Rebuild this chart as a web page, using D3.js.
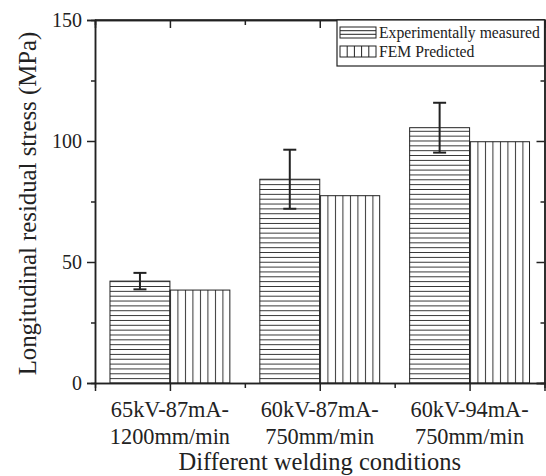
<!DOCTYPE html>
<html>
<head>
<meta charset="utf-8">
<script src="https://cdn.jsdelivr.net/npm/d3@7"></script>
<style>
  html, body { margin: 0; padding: 0; background: #fff; }
  svg { display: block; }
  text { font-family: "Liberation Serif", "Times New Roman", serif; fill: #222; }
</style>
</head>
<body>
<svg id="chart" width="546" height="476"></svg>
<script>
// ---- data ----
const categories = ["65kV-87mA-\n1200mm/min", "60kV-87mA-\n750mm/min", "60kV-94mA-\n750mm/min"];
const seriesNames = ["Experimentally measured", "FEM Predicted"];
const experimental = [42.1, 84.2, 105.5];
const experimentalError = [3.4, 12.2, 10.3];
const femPredicted = [38.4, 77.4, 99.7];
const yTicks = [0, 50, 100, 150];
const yMinorTicks = [25, 75, 125];
const xLabel = "Different welding conditions";
const yLabel = "Longitudinal residual stress (MPa)";

// ---- layout ----
const W = 546, H = 476;
const m = { left: 95, right: 1.5, top: 20, bottom: 93 };
const svg = d3.select("#chart");
const defs = svg.append("defs");
const ink = "#222";

const x = d3.scaleBand().domain(d3.range(categories.length)).range([m.left, W - m.right]).paddingInner(0).paddingOuter(0);
const y = d3.scaleLinear().domain([0, 150]).range([H - m.bottom, m.top]);
const bw = x.bandwidth() * 0.4;

// patterns
const ph = defs.append("pattern").attr("id", "hpat").attr("patternUnits", "userSpaceOnUse")
  .attr("width", 10).attr("height", 4.85).attr("y", y(0));
ph.append("line").attr("x1", 0).attr("x2", 10).attr("y1", 0.5).attr("y2", 0.5)
  .attr("stroke", "#333").attr("stroke-width", 1);
const pv = defs.append("pattern").attr("id", "vpat").attr("patternUnits", "userSpaceOnUse")
  .attr("width", 7.5).attr("height", 10).attr("x", m.left + x.bandwidth() / 2);
pv.append("line").attr("x1", 0.5).attr("x2", 0.5).attr("y1", 0).attr("y2", 10)
  .attr("stroke", "#333").attr("stroke-width", 1);

// bars
const g = svg.append("g");
g.selectAll("rect.exp").data(experimental).join("rect").attr("class", "exp")
  .attr("x", (d, i) => x(i) + x.bandwidth() / 2 - bw)
  .attr("y", d => y(d)).attr("width", bw).attr("height", d => y(0) - y(d))
  .attr("fill", "url(#hpat)").attr("stroke", ink).attr("stroke-width", 1);
g.selectAll("rect.fem").data(femPredicted).join("rect").attr("class", "fem")
  .attr("x", (d, i) => x(i) + x.bandwidth() / 2)
  .attr("y", d => y(d)).attr("width", bw).attr("height", d => y(0) - y(d))
  .attr("fill", "url(#vpat)").attr("stroke", ink).attr("stroke-width", 1);

// error bars
const eb = g.selectAll("g.err").data(experimental).join("g").attr("class", "err");
eb.each(function (d, i) {
  const cx = x(i) + x.bandwidth() / 2 - bw / 2;
  const e = experimentalError[i];
  const s = d3.select(this);
  s.append("line").attr("x1", cx).attr("x2", cx).attr("y1", y(d + e)).attr("y2", y(d - e))
    .attr("stroke", ink).attr("stroke-width", 2);
  [d + e, d - e].forEach(v => s.append("line").attr("x1", cx - 6.5).attr("x2", cx + 6.5)
    .attr("y1", y(v)).attr("y2", y(v)).attr("stroke", ink).attr("stroke-width", 2));
});

// axes
const left = svg.append("g").attr("transform", `translate(${m.left},0)`)
  .call(d3.axisLeft(y).tickValues(yTicks).tickSize(8).tickPadding(5).tickFormat(d3.format("d")));
svg.append("g").attr("transform", `translate(${m.left},0)`)
  .call(d3.axisLeft(y).tickValues(yMinorTicks).tickSize(4).tickFormat(""));
svg.append("g").attr("transform", `translate(${W - m.right},0)`)
  .call(d3.axisLeft(y).tickValues(yTicks).tickSize(8).tickFormat(""));
svg.append("g").attr("transform", `translate(${W - m.right},0)`)
  .call(d3.axisLeft(y).tickValues(yMinorTicks).tickSize(4).tickFormat(""));

const xc = d3.scaleLinear().domain([-0.5, categories.length - 0.5]).range([m.left, W - m.right]);
svg.append("g").attr("transform", `translate(0,${y(0)})`)
  .call(d3.axisBottom(xc).tickValues(d3.range(categories.length)).tickSize(8).tickFormat(""));
svg.append("g").attr("transform", `translate(0,${y(0)})`)
  .call(d3.axisBottom(xc).tickValues([0.5, 1.5]).tickSize(5).tickFormat(""));
svg.append("g").attr("transform", `translate(0,${m.top})`)
  .call(d3.axisBottom(xc).tickValues(d3.range(categories.length)).tickSize(8).tickFormat(""));
svg.append("g").attr("transform", `translate(0,${m.top})`)
  .call(d3.axisBottom(xc).tickValues([0.5, 1.5]).tickSize(5).tickFormat(""));
svg.append("line").attr("x1", m.left).attr("x2", W - m.right).attr("y1", m.top).attr("y2", m.top)
  .attr("stroke", ink).attr("stroke-width", 1.5);

svg.selectAll(".domain").attr("stroke", ink).attr("stroke-width", 1.5);
svg.selectAll(".tick line").attr("stroke", ink).attr("stroke-width", 1.5);
left.selectAll(".tick text").attr("font-size", 20).attr("font-family", "Liberation Serif").attr("fill", ink);

// category labels
categories.forEach((c, i) => {
  const lines = c.split("\n");
  const t = svg.append("text").attr("text-anchor", "middle").attr("font-size", 22.3)
    .attr("x", xc(i)).attr("y", 417);
  lines.forEach((l, k) => t.append("tspan").attr("x", xc(i)).attr("dy", k === 0 ? 0 : 27).text(l));
});

// axis titles
svg.append("text").attr("x", (m.left + W - m.right) / 2).attr("y", 470).attr("text-anchor", "middle")
  .attr("font-size", 24.5).text(xLabel);
svg.append("text").attr("transform", `translate(35.5,203.5) rotate(-90)`)
  .attr("text-anchor", "middle").attr("font-size", 24.8).text(yLabel);

// legend
const lg = svg.append("g");
const lx = 337, ly = m.top;
lg.append("rect").attr("x", lx).attr("y", ly).attr("width", W - m.right - lx).attr("height", 46)
  .attr("fill", "#fff").attr("stroke", ink).attr("stroke-width", 1.2);
const sw = [{ y: ly + 7 }, { y: ly + 26 }];
seriesNames.forEach((n, i) => {
  const sy = sw[i].y;
  lg.append("rect").attr("x", lx + 3).attr("y", sy).attr("width", 36).attr("height", 11)
    .attr("fill", "none").attr("stroke", ink).attr("stroke-width", 1);
  if (i === 0) {
    [3.7, 7.3].forEach(o => lg.append("line").attr("x1", lx + 3).attr("x2", lx + 39)
      .attr("y1", sy + o).attr("y2", sy + o).attr("stroke", ink).attr("stroke-width", 1));
  } else {
    [7.2, 14.4, 21.6, 28.8].forEach(o => lg.append("line").attr("x1", lx + 3 + o).attr("x2", lx + 3 + o)
      .attr("y1", sy).attr("y2", sy + 11).attr("stroke", ink).attr("stroke-width", 1));
  }
  lg.append("text").attr("x", lx + 42).attr("y", sy + 11).attr("font-size", 15.7).text(n);
});
</script>
</body>
</html>
